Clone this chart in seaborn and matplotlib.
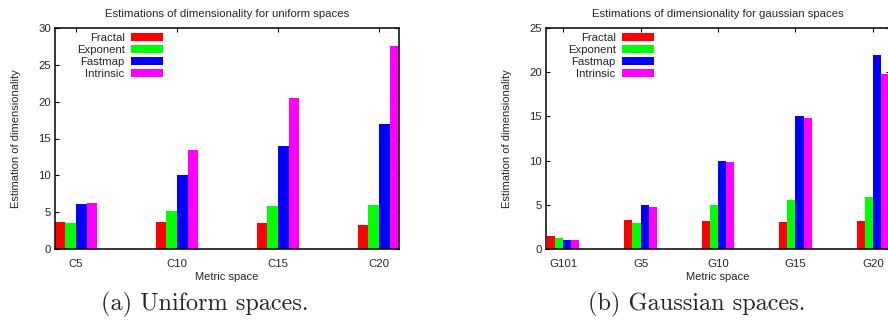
import pandas as pd
import seaborn as sns
import matplotlib.pyplot as plt
from matplotlib.patches import Patch

# Data
methods = ['Fractal', 'Exponent', 'Fastmap', 'Intrinsic']
colors = ['#ff0000', '#00ff00', '#0000ff', '#ff00ff']

uniform_spaces = ['C5', 'C10', 'C15', 'C20']
uniform_fractal = [3.6, 3.7, 3.5, 3.2]
uniform_exponent = [3.5, 5.2, 5.8, 6.0]
uniform_fastmap = [6.1, 10.0, 14.0, 17.0]
uniform_intrinsic = [6.3, 13.4, 20.5, 27.6]

gauss_spaces = ['G101', 'G5', 'G10', 'G15', 'G20']
gauss_fractal = [1.5, 3.3, 3.2, 3.1, 3.2]
gauss_exponent = [1.25, 2.9, 5.0, 5.5, 5.9]
gauss_fastmap = [1.0, 5.0, 10.0, 15.0, 22.0]
gauss_intrinsic = [1.0, 4.8, 9.8, 14.8, 19.8]


def long_form(spaces, *series):
    rows = []
    for m, vals in zip(methods, series):
        for s, v in zip(spaces, vals):
            rows.append({'space': s, 'method': m, 'value': v})
    return pd.DataFrame(rows)


df_u = long_form(uniform_spaces, uniform_fractal, uniform_exponent,
                 uniform_fastmap, uniform_intrinsic)
df_g = long_form(gauss_spaces, gauss_fractal, gauss_exponent,
                 gauss_fastmap, gauss_intrinsic)

sns.set_style('white')
plt.rcParams['font.family'] = ['Liberation Sans', 'DejaVu Sans']

fig = plt.figure(figsize=(8.88, 3.2), dpi=100)
ax1 = fig.add_axes([55 / 888, 71 / 320, 344 / 888, 221 / 320])
ax2 = fig.add_axes([546 / 888, 71 / 320, 344 / 888, 221 / 320])

palette = dict(zip(methods, colors))


def draw(ax, df, order, title, ymax, xlim):
    sns.barplot(data=df, x='space', y='value', hue='method', order=order,
                hue_order=methods, palette=palette, width=0.42, saturation=1,
                linewidth=0, ax=ax, legend=False)
    ax.set_xlim(*xlim)
    ax.set_ylim(0, ymax)
    ax.set_yticks(range(0, ymax + 1, 5))
    ax.set_title(title, fontsize=8.2, pad=8)
    ax.set_xlabel('Metric space', fontsize=8)
    ax.set_ylabel('Estimation of dimensionality', fontsize=8)
    ax.tick_params(axis='both', labelsize=8.2, direction='in', length=3,
                   width=0.8, color='black')
    ax.tick_params(axis='x', bottom=False, top=True, pad=7)
    ax.tick_params(axis='y', left=True, right=True, pad=3)
    for sp in ax.spines.values():
        sp.set_visible(True)
        sp.set_color('black')
        sp.set_linewidth(1.1)
    ax.xaxis.set_label_coords(0.5, -0.105)
    ax.yaxis.set_label_coords(-0.098, 0.5)
    handles = [Patch(facecolor=c, edgecolor='none') for c in colors]
    ax.legend(handles, methods, loc='upper right', bbox_to_anchor=(0.33, 1.004),
              frameon=False, markerfirst=False, fontsize=8.2, borderpad=0,
              handlelength=2.8, handleheight=0.7, handletextpad=0.55,
              labelspacing=0.18)


draw(ax1, df_u, uniform_spaces, 'Estimations of dimensionality for uniform spaces',
     30, (-0.208, 3.198))
draw(ax2, df_g, gauss_spaces, 'Estimations of dimensionality for gaussian spaces',
     25, (-0.22, 4.22))

fig.text(205 / 888, 1 - 304 / 320, '(a) Uniform spaces.', family='cmr10',
         fontsize=17.5, ha='center', va='center')
fig.text(697 / 888, 1 - 304 / 320, '(b) Gaussian spaces.', family='cmr10',
         fontsize=17.5, ha='center', va='center')

fig.savefig('out.png', dpi=100)
